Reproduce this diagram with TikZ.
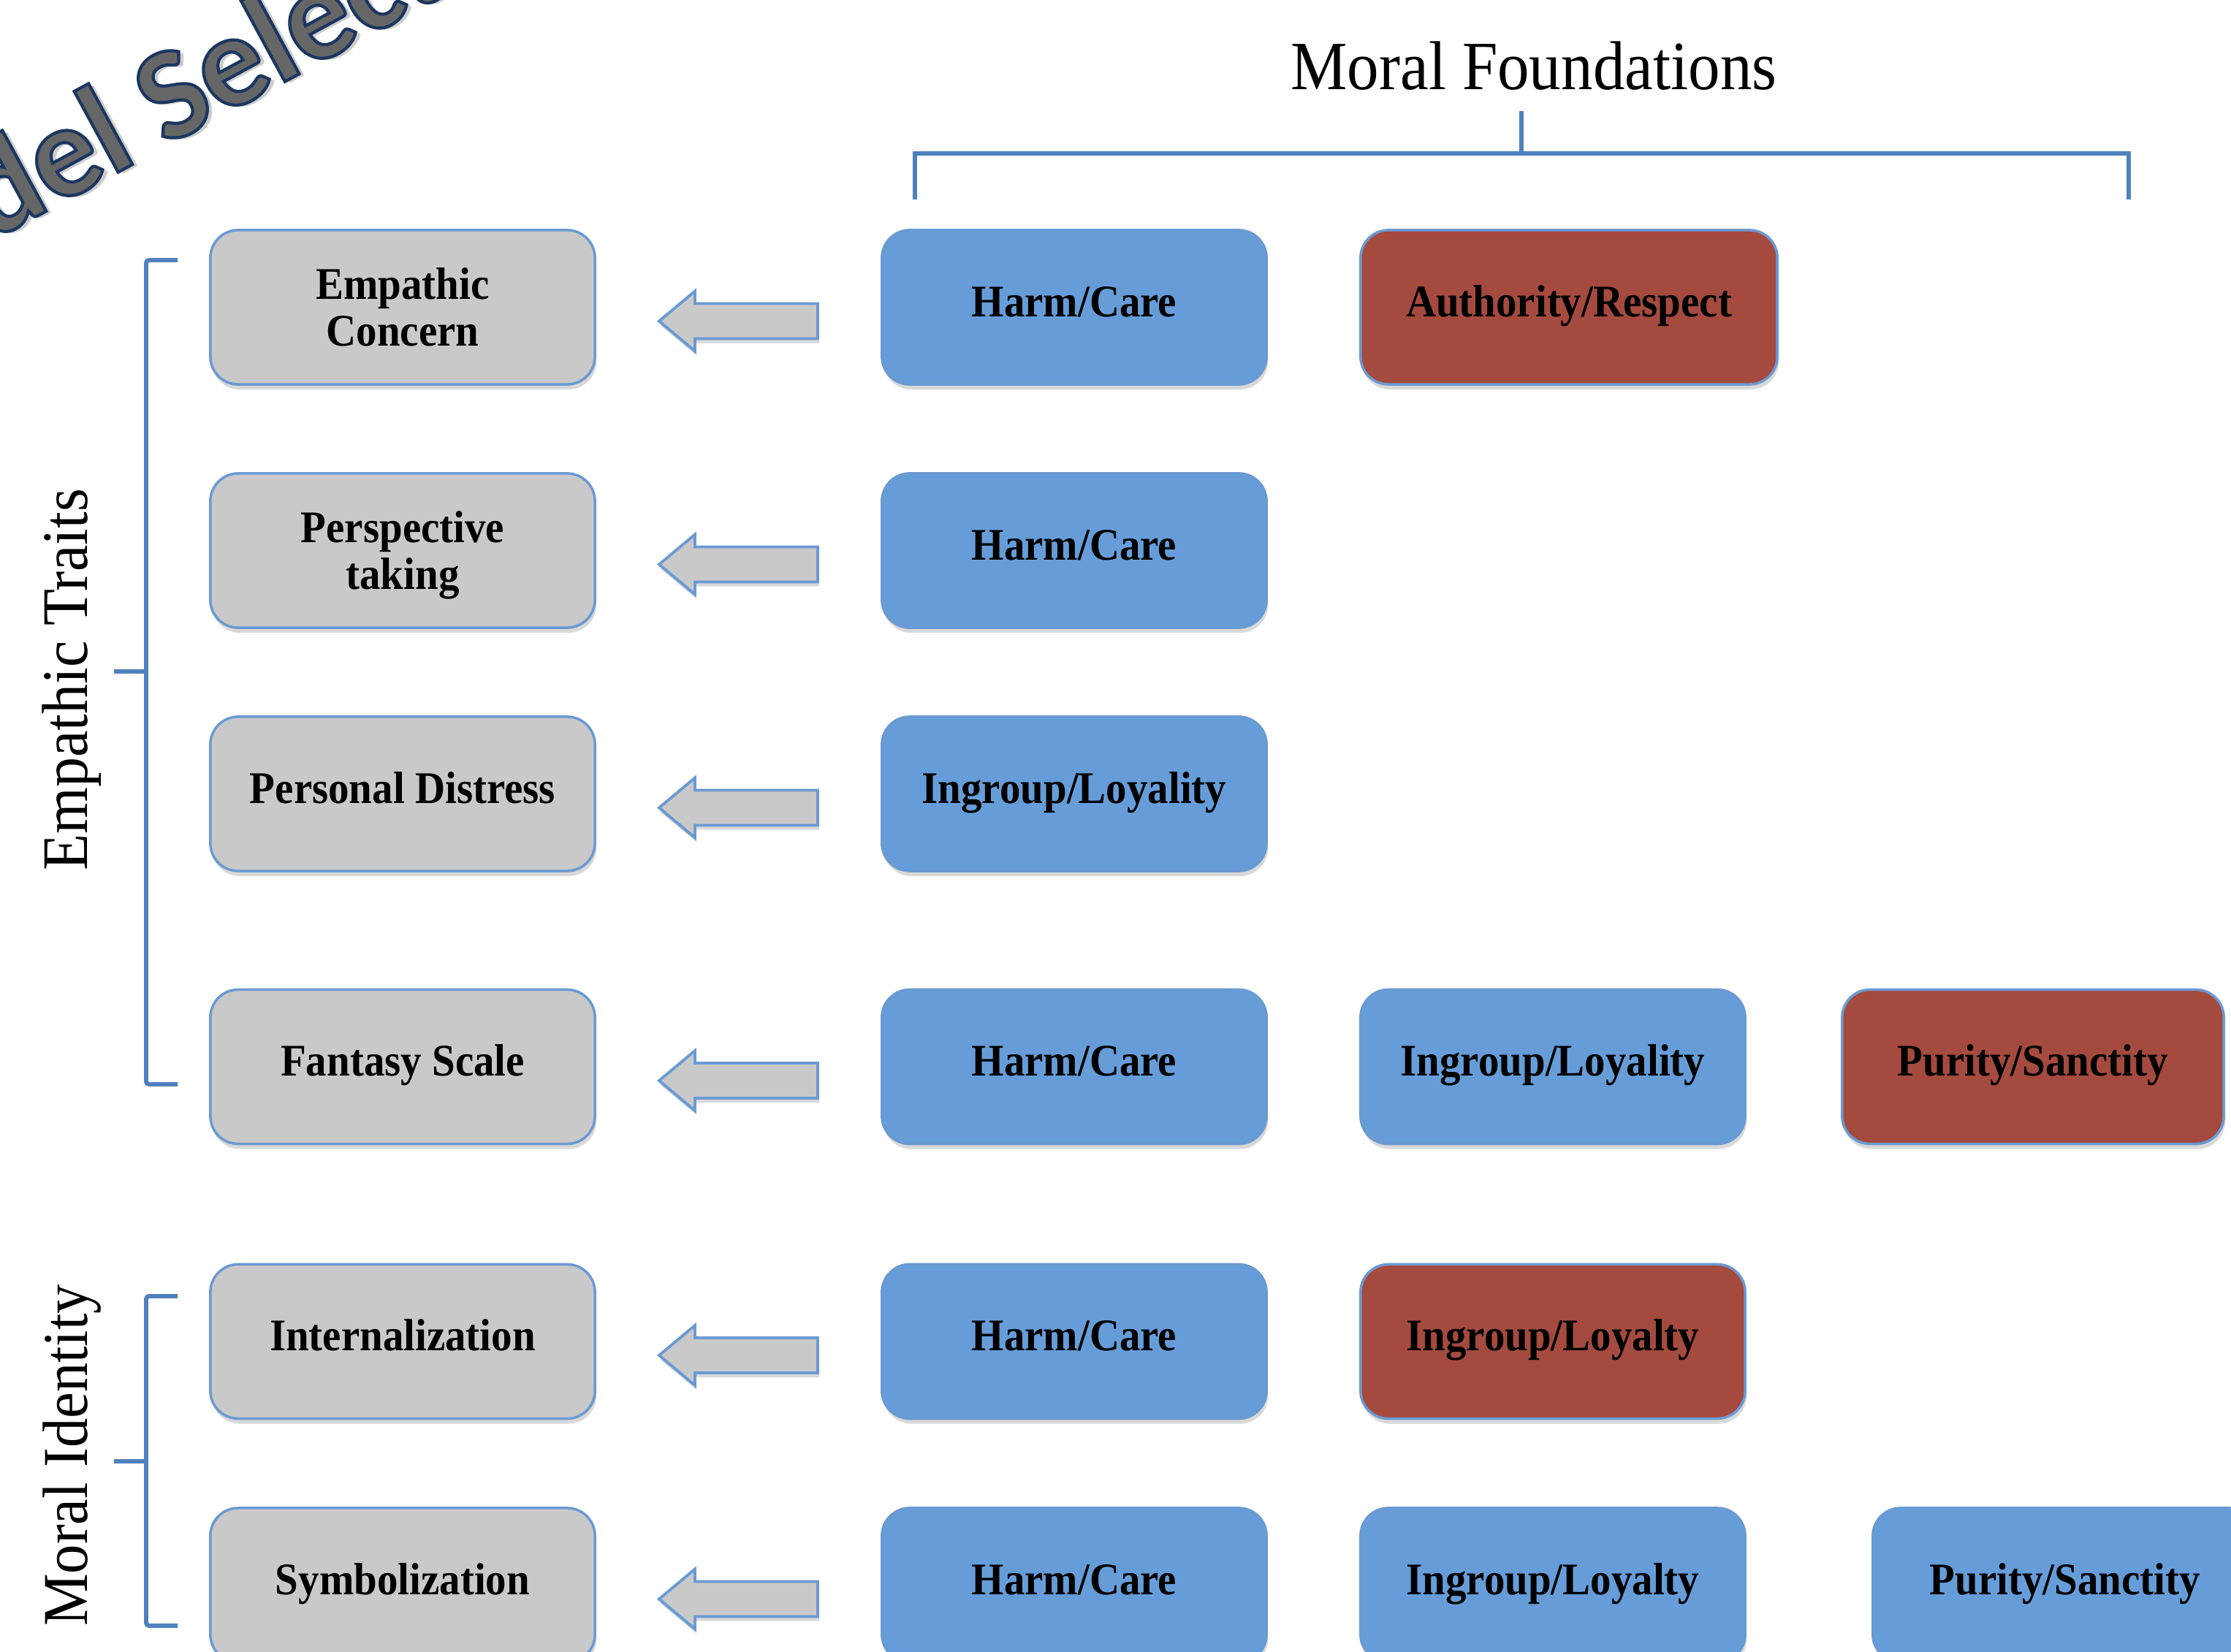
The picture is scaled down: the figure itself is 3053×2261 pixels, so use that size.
\documentclass[tikz,border=0pt]{standalone}
\usepackage{fontspec}
\setmainfont{Liberation Serif}[FakeStretch=0.92]
\newfontfamily\wafont{Carlito}
\usetikzlibrary{shadows,calc}
\definecolor{lineblue}{HTML}{4F81BD}
\definecolor{edgeblue}{HTML}{6A9AD2}
\definecolor{boxblue}{HTML}{669DD9}
\definecolor{boxred}{HTML}{A44A3F}
\definecolor{boxgray}{HTML}{C9C9C9}
\definecolor{wagray}{HTML}{666666}
\definecolor{waedge}{HTML}{1B3660}
\tikzset{
  box/.style={rounded corners=0.38cm, minimum width=5.26cm, minimum height=2.11cm,
    draw=edgeblue, line width=1pt, align=center, inner sep=0pt,
    font=\bfseries\fontsize{17.6}{18.2}\selectfont,
    drop shadow={shadow xshift=0.02cm, shadow yshift=-0.07cm, opacity=0.3}},
  traitbox/.style={box, fill=boxgray},
  bluebox/.style={box, fill=boxblue},
  redbox/.style={box, fill=boxred},
  bracket/.style={draw=lineblue, line width=1.7pt, rounded corners=0.04cm},
  blockarrow/.style={draw=edgeblue, line width=1.1pt, fill=boxgray,
    drop shadow={shadow xshift=0.02cm, shadow yshift=-0.06cm, opacity=0.3}},
  sidelabel/.style={rotate=90, inner sep=0pt},
  wm/.style={anchor=base west, rotate=28.5, inner sep=0pt,
    font=\wafont\bfseries\fontsize{51}{55}\selectfont}
}
\newcommand\blockarr[2]{%
  \draw[blockarrow] ($(#1.east)+(0.86cm,-0.19cm)$) -- ++(0.49cm,0.41cm) -- ++(0,-0.17cm)
    -- ($(#2.west)+(-0.86cm,0.05cm)$) -- ++(0,-0.48cm)
    -- ($(#1.east)+(1.35cm,-0.43cm)$) -- ++(0,-0.17cm) -- cycle;}
\newcommand\outlinetext[1]{\special{pdf:literal direct 2 Tr 0.106 0.212 0.376 RG 1.2 w}#1\special{pdf:literal direct 0 Tr}}
\begin{document}
\begin{tikzpicture}[x=0.01cm, y=-0.01cm]
\useasboundingbox (0,0) rectangle (3053,2261);
\clip (0,0) rectangle (3053,2261);

% watermark
\node[wm, text=black, opacity=0.2, shift={(0.05cm,-0.06cm)}] (wms) at (-235,451) {Model Selection};
\node[wm, text=wagray] (wm) at (-235,451) {\outlinetext{Model Selection}};

% header
\node[inner sep=0pt, font=\fontsize{26.9}{30}\selectfont] (mf) at (2099,90) {Moral Foundations};
\draw[bracket, rounded corners=0pt] (1252,273) -- (1252,210) -- (2913,210) -- (2913,273);
\draw[bracket] (2082,210) -- (2082,152);

% side labels
\node[sidelabel, font=\fontsize{25.3}{28}\selectfont] (et) at (98,930) {Empathic Traits};
\node[sidelabel, font=\fontsize{24.9}{28}\selectfont] (mi) at (99,1992) {Moral Identity};
\draw[bracket] (243,356) -- (200,356) -- (200,1484) -- (243,1484);
\draw[bracket] (200,919) -- (156,919);
\draw[bracket] (243,1774) -- (200,1774) -- (200,2225) -- (243,2225);
\draw[bracket] (200,2000) -- (156,2000);

% trait boxes
\node[traitbox] (ec) at (551,420.5) {Empathic\\Concern};
\node[traitbox] (pt) at (551,753.5) {Perspective\\\smash{taking}};
\node[traitbox] (pd) at (551,1086.5) {\strut Personal Distress};
\node[traitbox] (fs) at (551,1460) {\strut Fantasy Scale};
\node[traitbox] (in) at (551,1836) {\strut Internalization};
\node[traitbox] (sy) at (551,2169.5) {\strut Symbolization};

% foundation boxes, column 1
\node[bluebox] (h1) at (1470,420.5) {\strut Harm/Care};
\node[bluebox] (h2) at (1470,753.5) {\strut Harm/Care};
\node[bluebox] (h3) at (1470,1086.5) {\strut Ingroup/Loyality};
\node[bluebox] (h4) at (1470,1460) {\strut Harm/Care};
\node[bluebox] (h5) at (1470,1836) {\strut Harm/Care};
\node[bluebox] (h6) at (1470,2169.5) {\strut Harm/Care};

% column 2
\node[redbox, minimum width=5.70cm] (a1) at (2147,420.5) {\strut Authority/Respect};
\node[bluebox] (g4) at (2125,1460) {\strut Ingroup/Loyality};
\node[redbox] (g5) at (2125,1836) {\strut Ingroup/Loyalty};
\node[bluebox] (g6) at (2125,2169.5) {\strut Ingroup/Loyalty};

% column 3
\node[redbox, minimum width=5.22cm] (p4) at (2782,1460) {\strut Purity/Sanctity};
\node[bluebox] (p6) at (2826,2169.5) {\strut Purity/Sanctity};

% arrows
\blockarr{ec}{h1}
\blockarr{pt}{h2}
\blockarr{pd}{h3}
\blockarr{fs}{h4}
\blockarr{in}{h5}
\blockarr{sy}{h6}
\end{tikzpicture}
\end{document}
